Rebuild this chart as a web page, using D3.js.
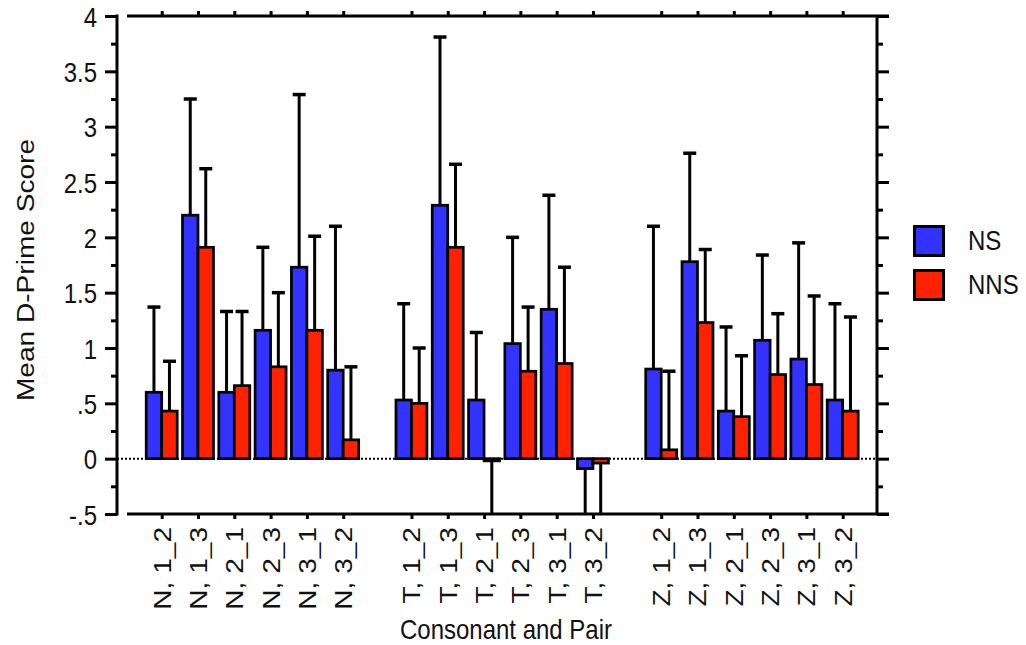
<!DOCTYPE html>
<html><head><meta charset="utf-8">
<script src="https://cdn.jsdelivr.net/npm/d3@7"></script>
<style>
body{margin:0;background:#fff;}
text{font-family:"Liberation Sans",Arial,Helvetica,sans-serif;fill:#111;}
</style>
</head><body>
<svg id="chart" width="1026" height="645"></svg>
<script>
// ---------- data ----------
const categories = ["N, 1_2","N, 1_3","N, 2_1","N, 2_3","N, 3_1","N, 3_2",
                    "T, 1_2","T, 1_3","T, 2_1","T, 2_3","T, 3_1","T, 3_2",
                    "Z, 1_2","Z, 1_3","Z, 2_1","Z, 2_3","Z, 3_1","Z, 3_2"];
const seriesNames = ["NS","NNS"];
const nsMeans  = [0.60, 2.20, 0.60, 1.16, 1.73, 0.80,  0.53, 2.29, 0.53, 1.04, 1.35, -0.09,  0.81, 1.78, 0.43, 1.07, 0.90, 0.53];
const nsErr    = [0.77, 1.05, 0.73, 0.75, 1.56, 1.30,  0.87, 1.52, 0.61, 0.96, 1.03, 0.80,   1.29, 0.98, 0.76, 0.77, 1.05, 0.87];
const nnsMeans = [0.43, 1.91, 0.66, 0.83, 1.16, 0.17,  0.50, 1.91, -0.02, 0.79, 0.86, -0.04, 0.08, 1.23, 0.38, 0.76, 0.67, 0.43];
const nnsErr   = [0.45, 0.71, 0.67, 0.67, 0.85, 0.66,  0.50, 0.75, 0.70, 0.58, 0.87, 0.60,   0.71, 0.66, 0.55, 0.55, 0.80, 0.85];
const yTicks = [-0.5, 0, 0.5, 1, 1.5, 2, 2.5, 3, 3.5, 4];
const yTickLabels = ["-.5","0",".5","1","1.5","2","2.5","3","3.5","4"];
const yMinorTicks = [-0.25, 0.25, 0.75, 1.25, 1.75, 2.25, 2.75, 3.25, 3.75];
const colors = {NS: "#3333ff", NNS: "#ff2200"};
const yTitle = "Mean D-Prime Score";
const xTitle = "Consonant and Pair";

// ---------- layout ----------
const svg = d3.select("#chart");
const groupSize = 6, groupGap = 0.88;
const stretch = 1.17; // glyphs are taller than wide in the reference
const pos = i => i + Math.floor(i / groupSize) * groupGap;
const x = d3.scaleLinear().domain([0, pos(categories.length - 1)]).range([161.7, 842.7]);
const y = d3.scaleLinear().domain([-0.5, 4]).range([514, 16]);
const sub = d3.scaleBand().domain(seriesNames).range([-15.5, 15.5]).padding(0);
const leftX = 117, rightX = 877, lineL = 127, lineR = 889;

const rows = [];
categories.forEach((c, i) => {
  rows.push({i, c, s: "NS", v: nsMeans[i], e: nsErr[i]});
  rows.push({i, c, s: "NNS", v: nnsMeans[i], e: nnsErr[i]});
});

svg.append("defs").append("clipPath").attr("id", "plotclip")
  .append("rect").attr("x", lineL).attr("y", y(4)).attr("width", rightX - lineL).attr("height", y(-0.5) - y(4));

// dotted zero line
svg.append("line").attr("x1", leftX).attr("x2", rightX).attr("y1", y(0)).attr("y2", y(0))
  .attr("stroke", "#000").attr("stroke-width", 2).attr("stroke-dasharray", "2,2");

const plot = svg.append("g").attr("clip-path", "url(#plotclip)");

// error bars
const cx = d => x(pos(d.i)) + sub(d.s) + sub.bandwidth() / 2;
const endV = d => d.v >= 0 ? d.v + d.e : d.v - d.e;
const eb = plot.selectAll("g.eb").data(rows).join("g").attr("class", "eb");
eb.append("line")
  .attr("x1", cx).attr("x2", cx)
  .attr("y1", d => y(d.v)).attr("y2", d => y(endV(d)))
  .attr("stroke", "#000").attr("stroke-width", 3);
eb.append("line")
  .attr("x1", d => cx(d) - 6.5).attr("x2", d => cx(d) + 6.5)
  .attr("y1", d => y(endV(d))).attr("y2", d => y(endV(d)))
  .attr("stroke", "#000").attr("stroke-width", 3.5);

// bars
plot.selectAll("rect.bar").data(rows).join("rect").attr("class", "bar")
  .attr("x", d => x(pos(d.i)) + sub(d.s))
  .attr("width", sub.bandwidth())
  .attr("y", d => y(Math.max(0, d.v)))
  .attr("height", d => Math.abs(y(d.v) - y(0)))
  .attr("fill", d => colors[d.s])
  .attr("stroke", "#000").attr("stroke-width", 2.7);

// ---------- axes ----------
function styleAxis(g) {
  g.selectAll("path.domain").remove();
  g.selectAll(".tick line").attr("stroke", "#000").attr("stroke-width", 3);
}
// left
const gl = svg.append("g").attr("transform", `translate(${leftX},0)`)
  .call(d3.axisLeft(y).tickValues(yTicks).tickSize(12).tickPadding(8).tickFormat((d, k) => yTickLabels[k]));
styleAxis(gl);
gl.selectAll(".tick text").attr("font-size", 24).attr("dy", "0.36em").attr("fill", "#111")
  .attr("transform", `scale(1,${stretch})`);
svg.append("g").attr("transform", `translate(${leftX},0)`)
  .call(d3.axisLeft(y).tickValues(yMinorTicks).tickSize(6).tickFormat("")).call(styleAxis);
svg.append("line").attr("x1", leftX).attr("x2", leftX).attr("y1", y(4) - 1.5).attr("y2", y(-0.5) + 1.5)
  .attr("stroke", "#000").attr("stroke-width", 3);
// right
svg.append("g").attr("transform", `translate(${rightX},0)`)
  .call(d3.axisRight(y).tickValues(yTicks).tickSize(12).tickFormat("")).call(styleAxis);
svg.append("g").attr("transform", `translate(${rightX},0)`)
  .call(d3.axisRight(y).tickValues(yMinorTicks).tickSize(6).tickFormat("")).call(styleAxis);
svg.append("line").attr("x1", rightX).attr("x2", rightX).attr("y1", y(4)).attr("y2", y(-0.5))
  .attr("stroke", "#000").attr("stroke-width", 3);
// top
svg.append("g").attr("transform", `translate(0,${y(4)})`)
  .call(d3.axisTop(x).tickValues(categories.map((c, i) => pos(i))).tickSize(5).tickFormat("")).call(styleAxis);
svg.append("line").attr("x1", lineL).attr("x2", lineR).attr("y1", y(4)).attr("y2", y(4))
  .attr("stroke", "#000").attr("stroke-width", 3);
// bottom
const gb = svg.append("g").attr("transform", `translate(0,${y(-0.5)})`)
  .call(d3.axisBottom(x).tickValues(categories.map((c, i) => pos(i))).tickSize(5)
    .tickFormat((d, k) => categories[k]));
styleAxis(gb);
gb.selectAll(".tick text")
  .attr("font-size", 24)
  .attr("text-anchor", "end")
  .attr("transform", `translate(8.5,13) scale(1,${stretch}) rotate(-90)`)
  .attr("x", 0).attr("y", 0).attr("dy", 0).attr("fill", "#111");
svg.append("line").attr("x1", lineL).attr("x2", lineR).attr("y1", y(-0.5)).attr("y2", y(-0.5))
  .attr("stroke", "#000").attr("stroke-width", 3);

// titles
svg.append("text").attr("transform", `translate(34,${(y(4) + y(-0.5)) / 2 + 5}) scale(1,${stretch}) rotate(-90)`)
  .attr("text-anchor", "middle").attr("font-size", 24).text(yTitle);
svg.append("text").attr("transform", `translate(506,639) scale(1,${stretch})`).attr("text-anchor", "middle")
  .attr("font-size", 24).text(xTitle);

// legend
const lg = svg.append("g");
seriesNames.forEach((s, k) => {
  lg.append("rect").attr("x", 914.5).attr("y", 226.5 + k * 44).attr("width", 29).attr("height", 29)
    .attr("fill", colors[s]).attr("stroke", "#000").attr("stroke-width", 3);
  lg.append("text").attr("transform", `translate(968,${250 + k * 44}) scale(1,${stretch})`)
    .attr("font-size", 24).text(s);
});
</script>
</body></html>
